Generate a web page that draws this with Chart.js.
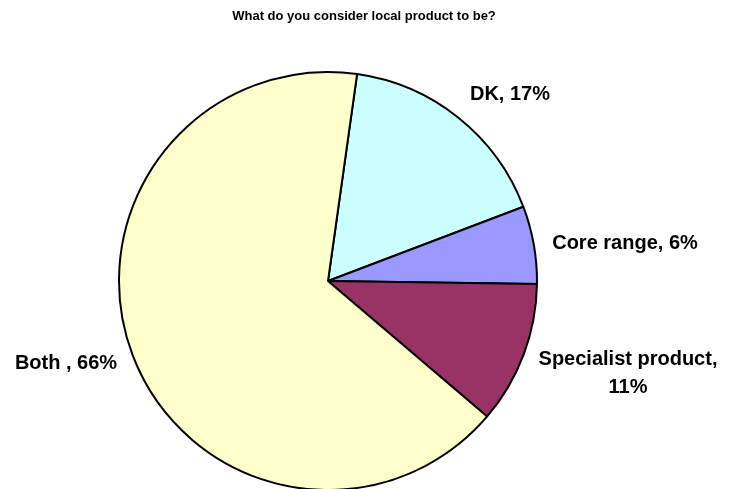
<!DOCTYPE html>
<html>
<head>
<meta charset="utf-8">
<script src="https://cdn.jsdelivr.net/npm/chart.js@4.4.1/dist/chart.umd.min.js"></script>
<style>
  html, body { margin: 0; padding: 0; background: #ffffff; }
  #wrap { width: 729px; height: 489px; }
</style>
</head>
<body>
<div id="wrap"><canvas id="pie" width="729" height="489"></canvas></div>
<script>
// Survey answers: share of respondents (%) per answer
const categories = ['DK', 'Core range', 'Specialist product', 'Both '];
const shares = [17, 6, 11, 66];
const sliceColors = ['#CCFFFF', '#9999FF', '#993366', '#FFFFCC'];
const chartTitle = 'What do you consider local product to be?';

// Where each data label sits (text lines, centre point)
const labelLayout = [
  { lines: (c, v) => [c + ', ' + v + '%'], x: 510, y: 94 },
  { lines: (c, v) => [c + ', ' + v + '%'], x: 625, y: 243 },
  { lines: (c, v) => [c + ',', v + '%'], x: 628, y: 359 },
  { lines: (c, v) => [c + ', ' + v + '%'], x: 66, y: 363 }
];

const FONT = '"Liberation Sans", Arial, Helvetica, sans-serif';

const labelPlugin = {
  id: 'sliceLabels',
  afterDraw(chart) {
    const ctx = chart.ctx;
    ctx.save();
    ctx.fillStyle = '#000000';
    ctx.textAlign = 'center';
    ctx.textBaseline = 'middle';
    ctx.font = 'bold 13px ' + FONT;
    ctx.fillText(chartTitle, 364, 16);
    ctx.font = 'bold 20px ' + FONT;
    const lineH = 28;
    chart.data.labels.forEach((cat, i) => {
      const L = labelLayout[i];
      const lines = L.lines(cat, chart.data.datasets[0].data[i]);
      lines.forEach((t, k) => ctx.fillText(t, L.x, L.y + k * lineH));
    });
    ctx.restore();
  }
};

new Chart(document.getElementById('pie'), {
  type: 'pie',
  data: {
    labels: categories,
    datasets: [{
      data: shares,
      backgroundColor: sliceColors,
      borderColor: '#000000',
      borderWidth: 2,
      radius: 209
    }]
  },
  options: {
    responsive: false,
    animation: false,
    rotation: 8,
    layout: { padding: { left: 0, right: 73, top: 73, bottom: 0 } },
    plugins: {
      legend: { display: false },
      tooltip: { enabled: false },
      title: { display: false }
    }
  },
  plugins: [labelPlugin]
});
</script>
</body>
</html>
